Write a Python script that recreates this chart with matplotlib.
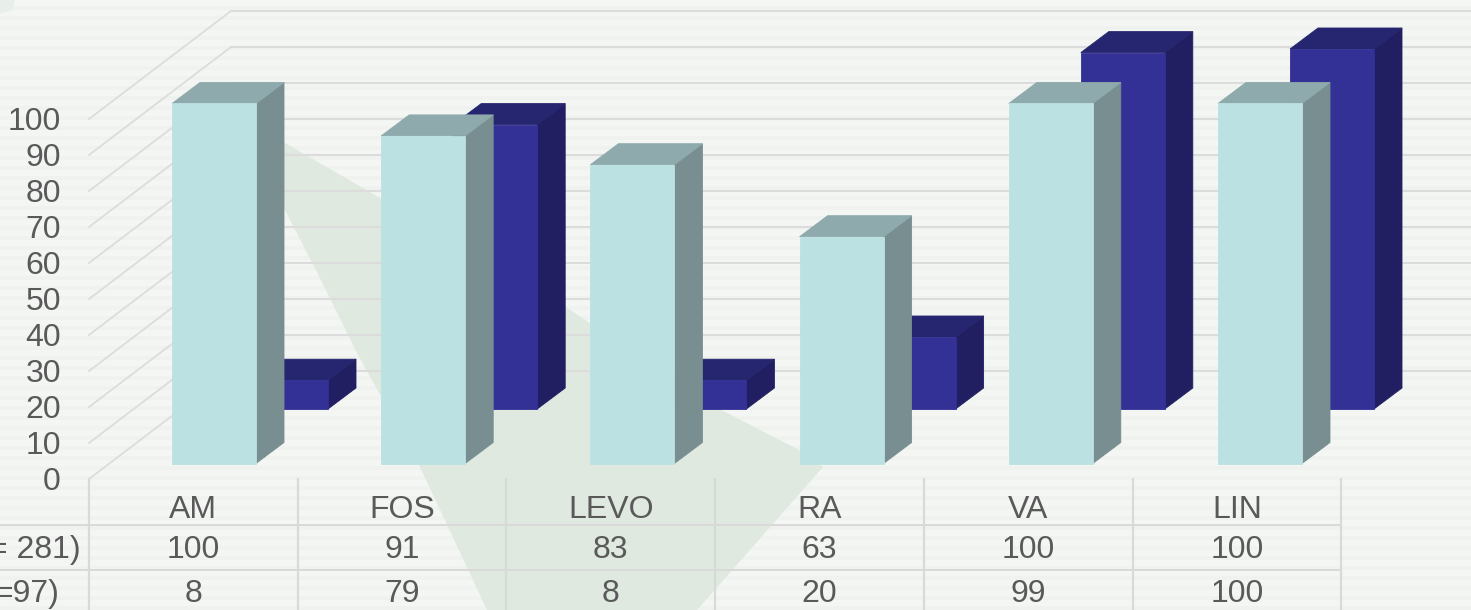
import numpy as np
import matplotlib
matplotlib.use('Agg')
import matplotlib.pyplot as plt
from matplotlib.patches import Polygon

plt.rcParams['font.family'] = ['Liberation Sans', 'DejaVu Sans']

categories = ['AM', 'FOS', 'LEVO', 'RA', 'VA', 'LIN']
front_values = [100, 91, 83, 63, 100, 100]
back_values = [8, 79, 8, 20, 99, 100]
row_labels = ['= 281)', '=97)']
y_ticks = list(range(0, 101, 10))

text_color = '#595959'
grid_color = '#dcdcdc'
table_color = '#d9d9d9'

# one x unit is one table column, one y unit is one percent
col_px = 208.7
bar_step = 209.2 / 208.7
val_px = 3.6
x0_px = 89.0
y0_px = 478.0
W, H = 1471, 610

fig = plt.figure(figsize=(W / 100, H / 100), dpi=100)
ax = fig.add_axes([0, 0, 1, 1])
ax.set_axis_off()
xlim = (-x0_px / col_px, (W - x0_px) / col_px)
ylim = ((y0_px - H) / val_px, y0_px / val_px)


def dx(px):
    return px / col_px


def dy(px):
    return px / val_px


# striped background, greenish grey
light = np.array([0.957, 0.968, 0.957])
dark = np.array([0.94, 0.95, 0.94])
pattern = np.array([light, light, light, light, light, light, dark, dark, dark, dark])
stripes = np.tile(pattern, (H // 10 + 1, 1))[:H].reshape(-1, 1, 3)
ax.imshow(stripes, extent=(*xlim, *ylim), aspect='auto', interpolation='bilinear', zorder=0)

# pale green shape behind the chart
shape_px = [(270, 130), (285, 143), (380, 198), (566, 307), (702, 400), (799, 450), (823, 467),
            (697, 610), (487, 610), (420, 467), (357, 353), (321, 280), (285, 210)]
shape = [((x - x0_px) / col_px, (y0_px - y) / val_px) for x, y in shape_px]
ax.add_patch(Polygon(shape, closed=True, fc='#dfe9e0', ec='none', zorder=1))
corner_px = [(0, 0), (15, 0), (12, 10), (0, 14)]
corner = [((x - x0_px) / col_px, (y0_px - y) / val_px) for x, y in corner_px]
ax.add_patch(Polygon(corner, closed=True, fc='#e8eeea', ec='none', zorder=1))

# walls: diagonal on the side, flat line along the back
wall_x = dx(142)
wall_y = dy(107)
for v in y_ticks:
    ax.plot([0, wall_x], [v - dy(1), v + wall_y], color=grid_color, lw=1.3, zorder=2)
    ax.plot([wall_x, xlim[1]], [v + wall_y, v + wall_y], color=grid_color, lw=1.5, zorder=2)
    ax.text(dx(-28), v - dy(4), str(v), ha='right', va='center', fontsize=23, color=text_color, zorder=6)


def draw_bar(i, value, off_x, off_y, front, top, side, zorder):
    left = i * bar_step + dx(64) + off_x
    right = left + dx(84)
    base = off_y
    tip = base + value
    d_x = dx(28)
    d_y = dy(21)
    ax.add_patch(Polygon([(right, base), (right + d_x, base + d_y), (right + d_x, tip + d_y), (right, tip)],
                         closed=True, fc=side, ec=side, lw=0.6, zorder=zorder))
    ax.add_patch(Polygon([(left, tip), (right, tip), (right + d_x, tip + d_y), (left + d_x, tip + d_y)],
                         closed=True, fc=top, ec=top, lw=0.6, zorder=zorder))
    ax.add_patch(Polygon([(left, base), (right, base), (right, tip), (left, tip)],
                         closed=True, fc=front, ec=front, lw=0.6, zorder=zorder))


for i, v in enumerate(back_values):
    draw_bar(i, v, dx(91), dy(69), '#333096', '#252570', '#211f62', 3)
for i, v in enumerate(front_values):
    draw_bar(i, v, dx(19), dy(14.5), '#bce1e2', '#8eaaac', '#788e90', 4)

# data table under the chart
for k in range(len(categories) + 1):
    ax.plot([k, k], [0, ylim[0]], color=table_color, lw=1.6, zorder=5, solid_capstyle='butt')
for y_px in [525, 569.5]:
    y = (y0_px - y_px) / val_px
    ax.plot([xlim[0], len(categories)], [y, y], color=table_color, lw=1.4, zorder=5)

for i, name in enumerate(categories):
    ax.text(i + 0.5, dy(-32), name, ha='center', va='center', fontsize=23, color=text_color, zorder=6)
    ax.text(i + 0.5, dy(-72), str(front_values[i]), ha='center', va='center', fontsize=23,
            color=text_color, zorder=6)
    ax.text(i + 0.5, dy(-116), str(back_values[i]), ha='center', va='center', fontsize=23,
            color=text_color, zorder=6)

ax.text(dx(-8), dy(-72), row_labels[0], ha='right', va='center', fontsize=23, color=text_color, zorder=6)
ax.text(dx(-30), dy(-116), row_labels[1], ha='right', va='center', fontsize=23, color=text_color, zorder=6)

ax.set_xlim(*xlim)
ax.set_ylim(*ylim)
fig.savefig('out.png', dpi=100)
